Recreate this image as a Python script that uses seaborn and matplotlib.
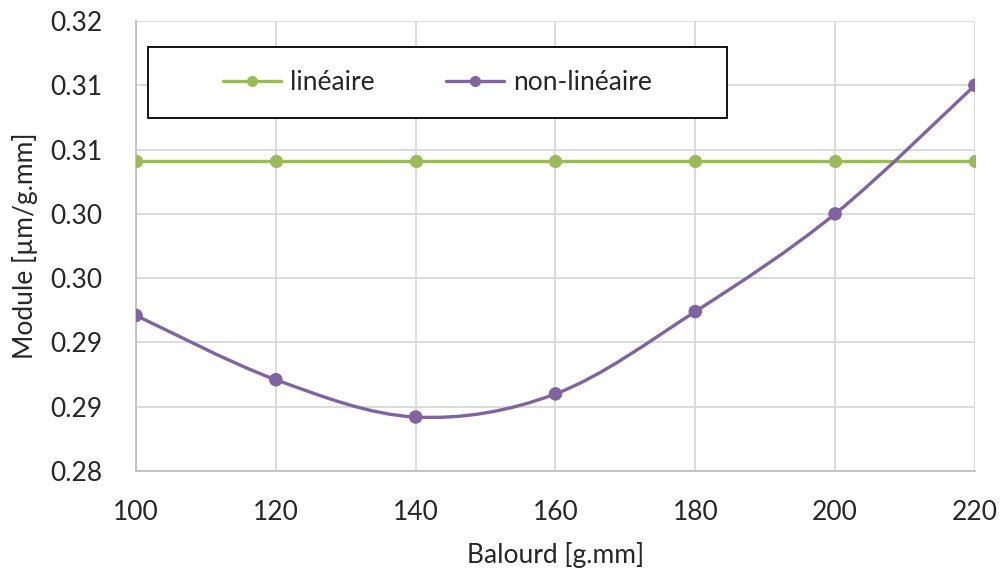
import numpy as np
import pandas as pd
import seaborn as sns
import matplotlib.pyplot as plt
from matplotlib.path import Path
from matplotlib.patches import PathPatch, Rectangle
from matplotlib.lines import Line2D

# data
balourd = [100, 120, 140, 160, 180, 200, 220]
lineaire = [0.3091, 0.3091, 0.3091, 0.3091, 0.3091, 0.3091, 0.3091]
non_lineaire = [0.2971, 0.2921, 0.2892, 0.2910, 0.2974, 0.3050, 0.3150]
yticks = [0.285, 0.29, 0.295, 0.30, 0.305, 0.31, 0.315, 0.32]
xticks = [100, 120, 140, 160, 180, 200, 220]

green = "#9bbb59"
purple = "#8064a2"
text_col = "#262626"

df = pd.DataFrame({"Balourd": balourd, "linéaire": lineaire, "non-linéaire": non_lineaire})

sns.set_style("white")
plt.rcParams["font.family"] = ["Lato", "DejaVu Sans"]

fig = plt.figure(figsize=(10.04, 5.79), dpi=100)
ax = fig.add_axes([0.1355, 0.1865, 0.8355, 0.7772])

# linear series: straight line with markers
sns.lineplot(data=df, x="Balourd", y="linéaire", ax=ax, color=green, lw=2.4,
             marker="o", markersize=9.5, markeredgewidth=0, zorder=3)

# non-linear series: Excel-like smoothed line (bezier through the data points)
px = np.array(balourd, dtype=float)
py = np.array(non_lineaire, dtype=float)
pts = np.column_stack([px, py])
ext = np.vstack([pts[0], pts, pts[-1]])
verts = [tuple(pts[0])]
codes = [Path.MOVETO]
for i in range(len(pts) - 1):
    p0, p1, p2, p3 = ext[i], ext[i + 1], ext[i + 2], ext[i + 3]
    c1 = p1 + (p2 - p0) / 6.0
    c2 = p2 - (p3 - p1) / 6.0
    verts += [tuple(c1), tuple(c2), tuple(p2)]
    codes += [Path.CURVE4] * 3
ax.add_patch(PathPatch(Path(verts, codes), fill=False, edgecolor=purple, lw=2.4,
                       zorder=3, capstyle="round"))
sns.scatterplot(data=df, x="Balourd", y="non-linéaire", ax=ax, color=purple,
                s=95, edgecolor="none", zorder=4)

ax.set_xlim(100, 220)
ax.set_ylim(0.285, 0.32)
ax.set_xticks(xticks)
ax.set_yticks(yticks)
ax.set_yticklabels([f"{v - 1e-9:.2f}" if abs(v * 1000 % 10 - 5) < 1e-6 else f"{v:.2f}" for v in yticks])
ax.tick_params(axis="both", labelsize=19, colors=text_col, length=0)
ax.tick_params(axis="x", pad=21)
ax.tick_params(axis="y", pad=24)
ax.grid(True, color="#d9d9d9", lw=1.3)
ax.set_axisbelow(True)
for s in ["top", "right"]:
    ax.spines[s].set_visible(False)
for s in ["left", "bottom"]:
    ax.spines[s].set_color("#bfbfbf")
    ax.spines[s].set_linewidth(1.3)

ax.set_xlabel("Balourd [g.mm]", fontsize=19, color=text_col)
ax.set_ylabel("Module [µm/g.mm]", fontsize=19, color=text_col)
ax.xaxis.set_label_coords(0.5, -0.187)
ax.xaxis.label.set_va("center")
ax.yaxis.set_label_coords(-0.132, 0.5)
ax.yaxis.label.set_va("center")

# legend in a black framed box
ax.add_patch(Rectangle((0.0143, 0.784), 0.69, 0.158, transform=ax.transAxes,
                       facecolor="white", edgecolor="black", lw=1.3, zorder=5))
handles = [Line2D([], [], color=green, lw=2.4, marker="o", markersize=8, markeredgewidth=0),
           Line2D([], [], color=purple, lw=2.4, marker="o", markersize=8, markeredgewidth=0)]
leg = ax.legend(handles, ["linéaire", "non-linéaire"], ncol=2, frameon=False,
                loc="center", bbox_to_anchor=(0.0143 + 0.345, 0.863), fontsize=19,
                handlelength=2.2, handletextpad=0.35, columnspacing=2.7)
leg.set_zorder(6)
for t in leg.get_texts():
    t.set_color(text_col)

fig.savefig("out.png", dpi=100)
